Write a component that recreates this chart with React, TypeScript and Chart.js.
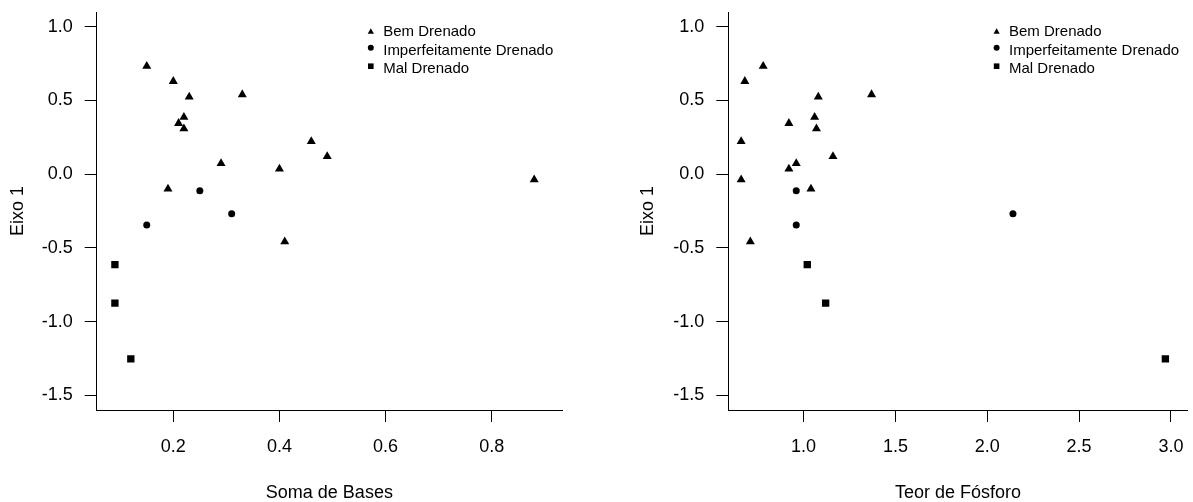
import React, { useEffect, useRef } from "react";
import { Chart, registerables } from "chart.js";

Chart.register(...registerables);

// ---------- data ----------
const seriesNames = ["Bem Drenado", "Imperfeitamente Drenado", "Mal Drenado"];
const seriesStyles = ["triangle", "circle", "rect"];

const eixo1Bem = [0.732, 0.63, 0.524, 0.54, 0.386, 0.345, 0.308, 0.222, 0.12, 0.073, 0.036, -0.038, -0.1, -0.458];
const somaBasesBem = [0.15, 0.2, 0.23, 0.33, 0.22, 0.21, 0.22, 0.46, 0.49, 0.29, 0.4, 0.88, 0.19, 0.41];
const fosforoBem = [0.78, 0.68, 1.08, 1.37, 1.06, 0.92, 1.07, 0.66, 1.16, 0.96, 0.92, 0.66, 1.04, 0.71];

const eixo1Imp = [-0.113, -0.268, -0.345];
const somaBasesImp = [0.25, 0.31, 0.15];
const fosforoImp = [0.96, 2.14, 0.96];

const eixo1Mal = [-0.614, -0.875, -1.253];
const somaBasesMal = [0.09, 0.09, 0.12];
const fosforoMal = [1.02, 1.12, 2.97];

const yTicks = [-1.5, -1.0, -0.5, 0.0, 0.5, 1.0];
const xTicksSomaBases = [0.2, 0.4, 0.6, 0.8];
const xTicksFosforo = [1.0, 1.5, 2.0, 2.5, 3.0];

const yTitle = "Eixo 1";
const xTitleSomaBases = "Soma de Bases";
const xTitleFosforo = "Teor de Fósforo";

// ---------- styling ----------
const FONT = "'Liberation Sans', Arial, Helvetica, sans-serif";
const pointRadii: Record<string, number> = { triangle: 5.2, circle: 3.5, rect: 5.2 };

function drawSymbol(ctx: CanvasRenderingContext2D, style: string, x: number, y: number) {
  ctx.beginPath();
  if (style === "triangle") {
    const r = 3.6;
    const cy = y + 1.2;
    ctx.moveTo(x, cy - r);
    ctx.lineTo(x + r * 0.866, cy + r * 0.5);
    ctx.lineTo(x - r * 0.866, cy + r * 0.5);
    ctx.closePath();
  } else if (style === "circle") {
    ctx.arc(x, y - 1.5, 3.0, 0, Math.PI * 2);
  } else {
    ctx.rect(x - 2.8, y - 1.5 - 2.8, 5.6, 5.6);
  }
  ctx.fillStyle = "#000";
  ctx.fill();
}

const rLegend = {
  id: "rLegend",
  afterDraw(chart: any) {
    const { ctx, chartArea } = chart;
    const ds = chart.data.datasets;
    ctx.save();
    ctx.font = `15px ${FONT}`;
    const maxW = Math.max(...ds.map((d: any) => ctx.measureText(d.label).width));
    const textX = chartArea.right - 8.7 - maxW;
    const symX = textX - 12.4;
    ds.forEach((d: any, i: number) => {
      const ty = chartArea.top + 20.2 + i * 18.5;
      ctx.fillStyle = "#000";
      ctx.textAlign = "left";
      ctx.textBaseline = "middle";
      ctx.fillText(d.label, textX, ty);
      drawSymbol(ctx, d.pointStyle, symX, ty - 1.5);
    });
    ctx.restore();
  },
};

function makeConfig(
  xs: number[][],
  ys: number[][],
  xTicks: number[],
  xMin: number,
  xMax: number,
  xTitle: string,
  yWidth: number,
  yTitlePad: number,
  padRight: number
): any {
  const datasets = seriesNames.map((name, i) => ({
    label: name,
    data: xs[i].map((x, j) => ({ x, y: ys[i][j] })),
    pointStyle: seriesStyles[i],
    pointRadius: pointRadii[seriesStyles[i]],
    backgroundColor: "#000",
    borderColor: "#000",
    borderWidth: 0,
    showLine: false,
  }));
  const tickFont = { size: 18, family: FONT };
  return {
    type: "scatter",
    data: { datasets },
    plugins: [rLegend],
    options: {
      responsive: false,
      animation: false,
      events: [],
      layout: { padding: { top: 12, right: padRight, left: 0, bottom: 0 } },
      plugins: { legend: { display: false }, tooltip: { enabled: false } },
      scales: {
        x: {
          type: "linear",
          min: xMin,
          max: xMax,
          afterBuildTicks: (s: any) => {
            s.ticks = xTicks.map((v) => ({ value: v }));
          },
          afterFit: (s: any) => {
            s.height = 92;
            s.paddingLeft = 0;
            s.paddingRight = 0;
          },
          grid: { drawOnChartArea: false, drawTicks: true, tickLength: 12, color: "#000", lineWidth: 1 },
          border: { display: true, color: "#000", width: 1 },
          ticks: {
            padding: 14,
            color: "#000",
            font: tickFont,
            maxRotation: 0,
            autoSkip: false,
            callback: (v: any) => Number(v).toFixed(1),
          },
          title: {
            display: true,
            text: xTitle,
            color: "#000",
            font: { size: 18, family: FONT, lineHeight: 1 },
            padding: 0,
          },
        },
        y: {
          type: "linear",
          min: -1.6,
          max: 1.1,
          afterBuildTicks: (s: any) => {
            s.ticks = yTicks.map((v) => ({ value: v }));
          },
          afterFit: (s: any) => {
            s.width = yWidth;
            s.paddingTop = 0;
            s.paddingBottom = 0;
          },
          grid: { drawOnChartArea: false, drawTicks: true, tickLength: 12, color: "#000", lineWidth: 1 },
          border: { display: true, color: "#000", width: 1 },
          ticks: {
            padding: 12,
            color: "#000",
            font: tickFont,
            autoSkip: false,
            callback: (v: any) => Number(v).toFixed(1),
          },
          title: {
            display: true,
            text: yTitle,
            color: "#000",
            font: { size: 18, family: FONT, lineHeight: 1 },
            padding: { top: yTitlePad, bottom: 0 },
          },
        },
      },
    },
  };
}

function Panel(props: { config: any; left: number; width: number }) {
  const ref = useRef<HTMLCanvasElement | null>(null);
  useEffect(() => {
    if (!ref.current) return;
    const chart = new Chart(ref.current, props.config);
    return () => chart.destroy();
  }, []);
  return (
    <canvas
      ref={ref}
      width={props.width}
      height={502}
      style={{ position: "absolute", left: props.left, top: 0, width: props.width, height: 502, display: "block" }}
    />
  );
}

export default function App() {
  const leftCfg = makeConfig(
    [somaBasesBem, somaBasesImp, somaBasesMal],
    [eixo1Bem, eixo1Imp, eixo1Mal],
    xTicksSomaBases,
    0.0557,
    0.9324,
    xTitleSomaBases,
    96.7,
    9,
    34
  );
  const rightCfg = makeConfig(
    [fosforoBem, fosforoImp, fosforoMal],
    [eixo1Bem, eixo1Imp, eixo1Mal],
    xTicksFosforo,
    0.59,
    3.092,
    xTitleFosforo,
    132.3,
    43,
    1
  );
  return (
    <div style={{ position: "absolute", left: 0, top: 0, width: 1193, height: 502, background: "#fff", overflow: "hidden" }}>
      <Panel config={leftCfg} left={0} width={596} />
      <Panel config={rightCfg} left={596} width={597} />
    </div>
  );
}
